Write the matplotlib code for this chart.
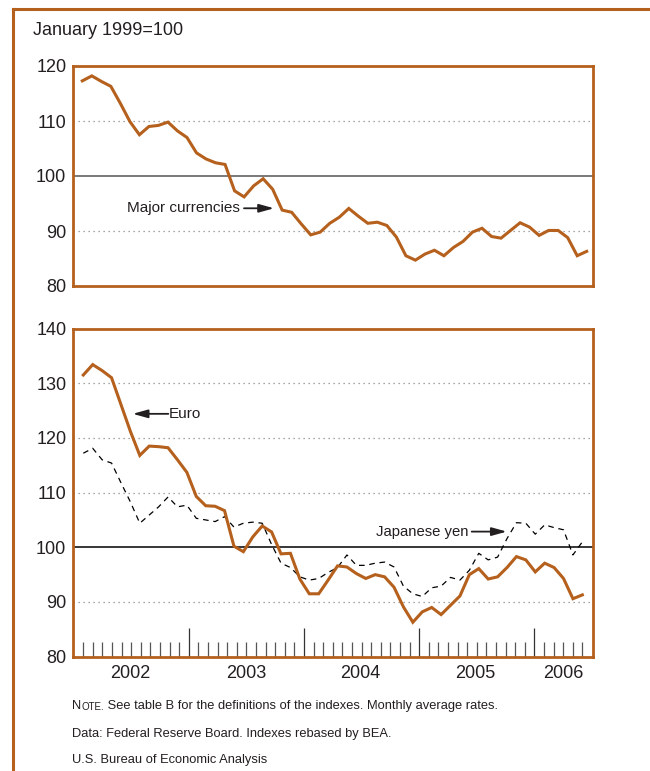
#! /usr/bin/env python

# import modules
# --------------
import numpy
import matplotlib
matplotlib.use('Agg')
import matplotlib.pyplot as plt
import matplotlib.transforms as mtransforms
from matplotlib.lines import Line2D

# data : monthly average, January 1999=100 (Jan 2002 -- Jun 2006)
# ----
majors = [117.3, 118.2, 117.2, 116.3, 113.2, 109.9, 107.5, 109.0, 109.2, 109.8,
          108.2, 107.0, 104.2, 103.1, 102.4, 102.1, 97.3, 96.2, 98.2, 99.5,
          97.6, 93.8, 93.4, 91.3, 89.3, 89.8, 91.4, 92.5, 94.1, 92.7,
          91.4, 91.6, 91.0, 88.9, 85.5, 84.7, 85.8, 86.5, 85.5, 87.0,
          88.1, 89.8, 90.5, 89.0, 88.7, 90.1, 91.5, 90.7, 89.2, 90.1,
          90.1, 88.8, 85.5, 86.3]
euro = [131.5, 133.4, 132.3, 131.0, 126.1, 121.2, 116.8, 118.5, 118.4, 118.2,
        116.0, 113.7, 109.3, 107.6, 107.5, 106.7, 100.2, 99.2, 101.9, 103.9,
        102.8, 98.8, 98.9, 94.2, 91.5, 91.5, 94.0, 96.6, 96.4, 95.2,
        94.3, 95.0, 94.6, 92.7, 89.1, 86.3, 88.2, 89.0, 87.7, 89.4,
        91.1, 95.0, 96.1, 94.2, 94.6, 96.3, 98.3, 97.7, 95.5, 97.1,
        96.3, 94.3, 90.6, 91.3]
yen = [117.2, 118.1, 116.0, 115.4, 111.8, 108.3, 104.4, 105.9, 107.4, 109.2,
       107.4, 107.7, 105.3, 105.0, 104.7, 105.6, 103.7, 104.4, 104.6, 104.4,
       100.5, 97.1, 96.3, 94.6, 94.0, 94.3, 95.4, 96.3, 98.6, 96.7,
       96.7, 97.1, 97.3, 96.4, 92.9, 91.5, 91.0, 92.6, 92.9, 94.5,
       94.0, 95.8, 98.9, 97.7, 98.2, 101.6, 104.5, 104.4, 102.4, 104.1,
       103.6, 103.2, 98.6, 101.0]
years = ['2002', '2003', '2004', '2005', '2006']

# style --
orange = '#B5601C'
textc = '#231F20'
plt.rcParams['font.family'] = ['Liberation Sans', 'DejaVu Sans']

W, H = 650., 771.


def box(l, t, r, b):
    return [l / W, 1 - b / H, (r - l) / W, (b - t) / H]


fig = plt.figure(figsize=(6.5, 7.71), dpi=100)
fig.patch.set_facecolor('white')

# define axes --
ax1 = fig.add_axes(box(73.3, 66, 592.7, 286))
ax2 = fig.add_axes(box(73.3, 328.5, 592.7, 656.7))
x = numpy.arange(len(euro))

# outer frame --
fig.add_artist(Line2D([13.3 / W, 13.3 / W], [0, 1 - 8.5 / H], color=orange, lw=2.2))
fig.add_artist(Line2D([13.3 / W, 1.0], [1 - 8.5 / H, 1 - 8.5 / H], color=orange, lw=2.2))

# grid lines --
dotted = dict(color='#8a8a8a', lw=0.9, ls=(0, (1, 3)), zorder=1)
for v in [90, 110]:
    ax1.axhline(v, **dotted)
ax1.axhline(100, color='#555555', lw=1.1, zorder=1)
for v in [90, 110, 120, 130]:
    ax2.axhline(v, **dotted)
ax2.axhline(100, color='black', lw=1.1, zorder=1)

# plot lines --
ax1.plot(x, majors, color=orange, lw=2.2, solid_joinstyle='miter', zorder=3)
ax2.plot(x, yen, color='black', lw=0.9, ls=(0, (4.5, 3.8)), zorder=2)
ax2.plot(x, euro, color=orange, lw=2.2, solid_joinstyle='miter', zorder=3)

# limits --
ax1.set_xlim(-0.946, 53.63)
ax1.set_ylim(80, 120)
ax2.set_xlim(-1.062, 54.10)
ax2.set_ylim(80, 140)

# axes cosmetics --
for ax in (ax1, ax2):
    for sp in ax.spines.values():
        sp.set_color(orange)
        sp.set_linewidth(2.0)
    ax.tick_params(axis='y', length=0, pad=5, labelsize=13, labelcolor=textc)
ax1.set_yticks([80, 90, 100, 110, 120])
ax1.set_xticks([])
ax2.set_yticks([80, 90, 100, 110, 120, 130, 140])

# monthly ticks (53 marks spread over the data span), January marks longer --
tick_pos = numpy.arange(53) * 53 / 52.
major_k = [11, 23, 35, 47]
minor_k = [k for k in range(53) if k not in major_k]
ax2.set_xticks(tick_pos[major_k])
ax2.set_xticks(tick_pos[minor_k], minor=True)
ax2.tick_params(axis='x', which='major', direction='in', length=21, width=0.9,
                color='#333333', labelbottom=False)
ax2.tick_params(axis='x', which='minor', direction='in', length=11, width=0.9,
                color='#555555')

trans = mtransforms.blended_transform_factory(ax2.transData, ax2.transAxes)
for xp, lab in zip([5.0, 17.3, 29.4, 41.6, 51.0], years):
    ax2.text(xp, -0.026, lab, transform=trans, ha='center', va='top',
             fontsize=13, color=textc)

# annotations --
arrow = dict(arrowstyle='-|>,head_length=0.9,head_width=0.25', color=textc,
             lw=1.3, shrinkA=0, shrinkB=0, mutation_scale=10)
lab_fs = 11
ax1.annotate('', xy=(20.14, 94.13), xytext=(16.99, 94.13), arrowprops=arrow)
ax1.text(16.6, 94.13, 'Major currencies', ha='right', va='center',
         fontsize=lab_fs, color=textc)
ax2.annotate('', xy=(5.25, 124.4), xytext=(9.03, 124.4), arrowprops=arrow)
ax2.text(9.1, 124.4, 'Euro', ha='left', va='center', fontsize=lab_fs,
         color=textc)
ax2.annotate('', xy=(44.97, 102.87), xytext=(41.25, 102.87), arrowprops=arrow)
ax2.text(40.9, 102.87, 'Japanese yen', ha='right', va='center', fontsize=10.7,
         color=textc)

# header and notes --
note_fs = 9.3
fig.text(33.3 / W, 1 - 35 / H, 'January 1999=100', ha='left', va='baseline',
         fontsize=13, color=textc)
n1 = fig.text(72 / W, 1 - 709 / H, 'N', ha='left', va='baseline', fontsize=note_fs,
              color=textc)
n2 = plt.annotate('OTE.', xy=(1, 0), xycoords=n1, ha='left', va='bottom',
                  fontsize=7.0, color=textc)
plt.annotate(' See table B for the definitions of the indexes. Monthly average rates.',
             xy=(1, 0), xycoords=n2, ha='left', va='bottom', fontsize=note_fs,
             color=textc)
fig.text(72 / W, 1 - 736.5 / H, 'Data: Federal Reserve Board. Indexes rebased by BEA.',
         ha='left', va='baseline', fontsize=note_fs, color=textc)
fig.text(72 / W, 1 - 763 / H, 'U.S. Bureau of Economic Analysis',
         ha='left', va='baseline', fontsize=note_fs, color=textc)

fig.savefig('out.png', dpi=100, facecolor='white')
